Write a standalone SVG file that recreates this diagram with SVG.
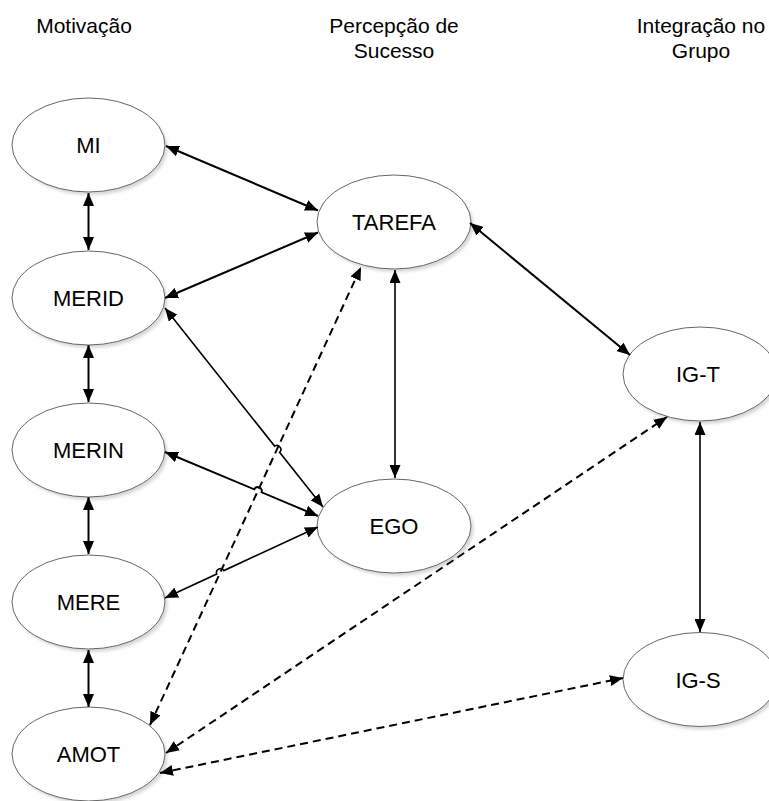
<svg xmlns="http://www.w3.org/2000/svg" width="769" height="801" viewBox="0 0 769 801">
<style>
text{font-family:"Liberation Sans",Arial,sans-serif;fill:#000;}
.title{font-size:21px;text-anchor:middle;}
.lbl{font-size:22px;text-anchor:middle;}
.node{fill:#fff;stroke:#666;stroke-width:1;}
.shadow{fill:#d8d8d8;filter:url(#blur);}
.c{fill:none;stroke:#000;stroke-width:2;marker-start:url(#ah);marker-end:url(#ah);}
.thin{stroke-width:1.6;}
.d{stroke-dasharray:8 5;}
</style>
<defs>
<filter id="blur" x="-10%" y="-10%" width="120%" height="120%"><feGaussianBlur stdDeviation="1.5"/></filter>
<marker id="ah" markerUnits="userSpaceOnUse" markerWidth="13" markerHeight="11" viewBox="0 0 13 11" refX="13" refY="5.5" orient="auto-start-reverse"><path d="M0,0 L13,5.5 L0,11 z" fill="#000"/></marker>
</defs>
<rect width="769" height="801" fill="#fff"/>
<g id="titles">
<text class="title" x="84" y="33">Motivação</text>
<text class="title" x="394" y="33">Percepção de</text>
<text class="title" x="394" y="58">Sucesso</text>
<text class="title" x="701" y="33">Integração no</text>
<text class="title" x="701" y="58">Grupo</text>
</g>
<g id="node-MI"><ellipse class="shadow" cx="91" cy="148" rx="76.5" ry="47"/><ellipse class="node" cx="88.5" cy="145" rx="76.5" ry="47"/><text class="lbl" x="88.5" y="153">MI</text></g>
<g id="node-MERID"><ellipse class="shadow" cx="91" cy="301" rx="76.5" ry="47"/><ellipse class="node" cx="88.5" cy="298" rx="76.5" ry="47"/><text class="lbl" x="88.5" y="306">MERID</text></g>
<g id="node-MERIN"><ellipse class="shadow" cx="91" cy="453" rx="76.5" ry="47"/><ellipse class="node" cx="88.5" cy="450" rx="76.5" ry="47"/><text class="lbl" x="88.5" y="458">MERIN</text></g>
<g id="node-MERE"><ellipse class="shadow" cx="91" cy="605" rx="76.5" ry="47"/><ellipse class="node" cx="88.5" cy="602" rx="76.5" ry="47"/><text class="lbl" x="88.5" y="610">MERE</text></g>
<g id="node-AMOT"><ellipse class="shadow" cx="91" cy="757" rx="76.5" ry="47"/><ellipse class="node" cx="88.5" cy="754" rx="76.5" ry="47"/><text class="lbl" x="88.5" y="762">AMOT</text></g>
<g id="node-TAREFA"><ellipse class="shadow" cx="396.5" cy="225" rx="77" ry="47"/><ellipse class="node" cx="394" cy="222" rx="77" ry="47"/><text class="lbl" x="394" y="230">TAREFA</text></g>
<g id="node-EGO"><ellipse class="shadow" cx="396.5" cy="529" rx="77" ry="47"/><ellipse class="node" cx="394" cy="526" rx="77" ry="47"/><text class="lbl" x="394" y="534">EGO</text></g>
<g id="node-IGT"><ellipse class="shadow" cx="702.5" cy="377" rx="77" ry="47"/><ellipse class="node" cx="700" cy="374" rx="77" ry="47"/><text class="lbl" x="698" y="382">IG-T</text></g>
<g id="node-IGS"><ellipse class="shadow" cx="702.5" cy="682.5" rx="77" ry="47"/><ellipse class="node" cx="700" cy="679.5" rx="77" ry="47"/><text class="lbl" x="698" y="688">IG-S</text></g>
<g id="connectors">
<path class="c" d="M88.5,193 L88.5,250"/>
<path class="c" d="M88.5,345 L88.5,402"/>
<path class="c" d="M88.5,497 L88.5,554"/>
<path class="c" d="M88.5,650 L88.5,707"/>
<path class="c" d="M166,146 L318,210.5"/>
<path class="c" d="M165,298 L318,232.5"/>
<path class="c thin" d="M165,308 L274.6,446.1 A4,4 0 0 1 279.6,452.3 L323,507"/>
<path class="c" d="M165,452 L254.2,489.3 A4,4 0 0 1 261.6,492.3 L318,516"/>
<path class="c thin" d="M165,598 L216.7,574 A4,4 0 0 1 223.9,570.6 L318,527"/>
<path class="c thin" d="M395,270 L395,478"/>
<path class="c" d="M470,223 L630,355"/>
<path class="c thin" d="M700,422 L700,632"/>
<path class="c d" d="M150,725 L361,267"/>
<path class="c d" d="M166,753 L667,417"/>
<path class="c d" d="M160,773 L623,678"/>
</g>
</svg>
